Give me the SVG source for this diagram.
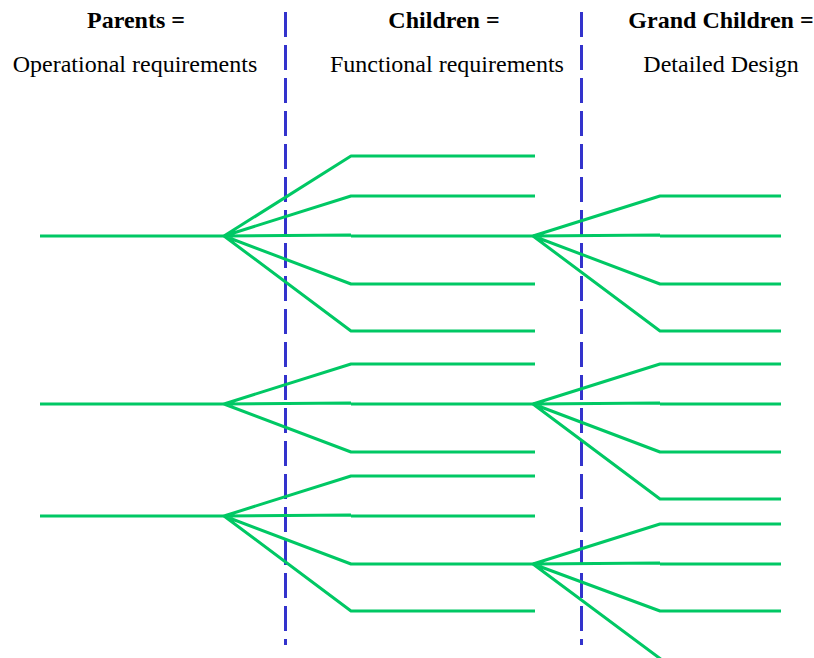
<svg xmlns="http://www.w3.org/2000/svg" width="814" height="658" viewBox="0 0 814 658">
  <style>
    .hd { font-family: "Liberation Serif", "Times New Roman", serif; font-size: 24px; fill: #000; text-anchor: middle; }
    .b { font-weight: bold; }
    .divider { stroke: #3333CC; stroke-width: 3; stroke-dasharray: 25 8; fill: none; }
    .tree { stroke: #00C864; stroke-width: 3; fill: none; stroke-linecap: butt; stroke-linejoin: round; }
  </style>
  <rect width="814" height="658" fill="#fff"/>

  <!-- column headings -->
  <g id="heading-parents">
    <text class="hd b" x="136" y="28">Parents =</text>
    <text class="hd" x="135" y="72">Operational requirements</text>
  </g>
  <g id="heading-children">
    <text class="hd b" x="444" y="28">Children =</text>
    <text class="hd" x="447" y="72">Functional requirements</text>
  </g>
  <g id="heading-grandchildren">
    <text class="hd b" x="721" y="28">Grand Children =</text>
    <text class="hd" x="721" y="72">Detailed Design</text>
  </g>

  <!-- level dividers -->
  <g id="dividers">
    <line class="divider" x1="285.5" y1="12" x2="285.5" y2="645"/>
    <line class="divider" x1="581.5" y1="12" x2="581.5" y2="645"/>
  </g>

  <g id="connectors">
    <!-- parent 1 -->
    <g id="parent-1">
      <path class="tree" d="M40 236H224"/>
      <path class="tree" d="M224 236L351 156H535M224 236L351 196H535M224 236L351 235M351 236H535M224 236L351 284H535M224 236L351 331H535"/>
      <!-- grandchildren of middle child -->
      <path class="tree" d="M533 236L660 196H781M533 236L660 235M660 236H781M533 236L660 284H781M533 236L660 331H781"/>
    </g>
    <!-- parent 2 -->
    <g id="parent-2">
      <path class="tree" d="M40 404H224"/>
      <path class="tree" d="M224 404L351 364H535M224 404L351 403M351 404H535M224 404L351 452H535"/>
      <path class="tree" d="M533 404L660 364H781M533 404L660 403M660 404H781M533 404L660 452H781M533 404L660 499H781"/>
    </g>
    <!-- parent 3 -->
    <g id="parent-3">
      <path class="tree" d="M40 516H224"/>
      <path class="tree" d="M224 516L351 476H535M224 516L351 515M351 516H535M224 516L351 564H535M224 516L351 611H535"/>
      <path class="tree" d="M533 564L660 524H781M533 564L660 563M660 564H781M533 564L660 611H781M533 564L662 660"/>
    </g>
  </g>
</svg>
